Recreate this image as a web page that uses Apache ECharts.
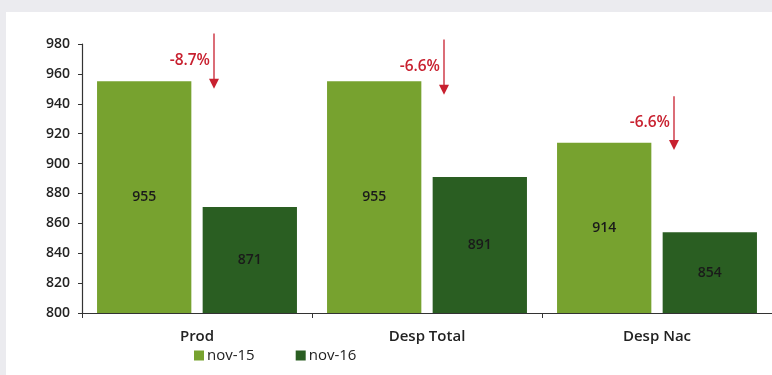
<!DOCTYPE html>
<html>
<head>
<meta charset="utf-8">
<script src="https://cdn.jsdelivr.net/npm/echarts@6/dist/echarts.min.js"></script>
<style>
  html, body { margin: 0; padding: 0; width: 772px; height: 375px; background: #ebebef; overflow: hidden; }
  #chart { position: absolute; left: 6px; top: 12px; width: 766px; height: 363px; background: #ffffff; }
</style>
</head>
<body>
<div id="chart"></div>
<script>
// Categories and series values
const categories = ['Prod', 'Desp Total', 'Desp Nac'];
const seriesNames = ['nov-15', 'nov-16'];
const nov15 = [955, 955, 914];
const nov16 = [871, 891, 854];

// Y axis range and tick step
const yMin = 800;
const yMax = 980;
const yStep = 20;

// Change arrows: start and end values, and the change labels
const arrowTop = [987, 983, 945];
const arrowBottom = [950, 946, 909];
const changeLabels = ['-8.7%', '-6.6%', '-6.6%'];

const FONT = "'Open Sans', 'Noto Sans', sans-serif";
const LIGHT = '#77a22f';
const DARK = '#2a5e22';
const RED = '#c8202f';

const arrowData = categories.map((c, i) => [i, arrowTop[i], arrowBottom[i], changeLabels[i]]);

const chart = echarts.init(document.getElementById('chart'), null, { renderer: 'canvas' });

const valueLabel = {
  show: true,
  position: 'inside',
  color: '#1a1a1a',
  fontFamily: FONT,
  fontSize: 14,
  fontWeight: 600
};

chart.setOption({
  animation: false,
  textStyle: { fontFamily: FONT },
  grid: { left: 76, top: 32, width: 698, height: 269, containLabel: false },
  legend: {
    data: seriesNames,
    left: 183,
    top: 331,
    itemWidth: 10,
    itemHeight: 10,
    itemGap: 41,
    icon: 'rect',
    textStyle: { fontFamily: FONT, fontSize: 15, color: '#222', fontWeight: 500, padding: [0, 0, 0, -2] }
  },
  xAxis: {
    type: 'category',
    data: categories,
    axisLine: { lineStyle: { color: '#333', width: 1.2 } },
    axisTick: { show: true, length: 5, lineStyle: { color: '#333' } },
    axisLabel: { color: '#222', fontFamily: FONT, fontSize: 15, fontWeight: 600, margin: 16 }
  },
  yAxis: {
    type: 'value',
    min: yMin,
    max: yMax,
    interval: yStep,
    splitLine: { show: false },
    axisLine: { show: true, lineStyle: { color: '#333', width: 1.2 } },
    axisTick: { show: true, inside: false, length: 4, lineStyle: { color: '#333' } },
    axisLabel: { color: '#222', fontFamily: FONT, fontSize: 14, fontWeight: 600, margin: 12 }
  },
  series: [
    {
      name: seriesNames[0],
      type: 'bar',
      data: nov15,
      barWidth: '41%',
      barGap: '12%',
      itemStyle: { color: LIGHT },
      label: valueLabel
    },
    {
      name: seriesNames[1],
      type: 'bar',
      data: nov16,
      barWidth: '41%',
      itemStyle: { color: DARK },
      label: valueLabel
    },
    {
      // Downward change arrows with percentage labels
      type: 'custom',
      data: arrowData,
      encode: { x: 0, y: [1, 2] },
      clip: false,
      silent: true,
      z: 5,
      renderItem: function (params, api) {
        const cat = api.value(0);
        const top = api.coord([cat, api.value(1)]);
        const bot = api.coord([cat, api.value(2)]);
        const x = top[0] + 17;
        const y0 = top[1];
        const y1 = bot[1];
        const head = 10;
        return {
          type: 'group',
          children: [
            {
              type: 'line',
              shape: { x1: x, y1: y0, x2: x, y2: y1 - head + 1 },
              style: { stroke: RED, lineWidth: 1.3 }
            },
            {
              type: 'polygon',
              shape: { points: [[x - 5, y1 - head], [x + 5, y1 - head], [x, y1]] },
              style: { fill: RED }
            },
            {
              type: 'text',
              x: x - 4,
              y: (y0 + y1) / 2 - 1,
              style: {
                text: arrowData[params.dataIndex][3],
                fill: RED,
                font: '600 15.5px ' + FONT,
                align: 'right',
                verticalAlign: 'middle'
              }
            }
          ]
        };
      }
    }
  ]
});
</script>
</body>
</html>
